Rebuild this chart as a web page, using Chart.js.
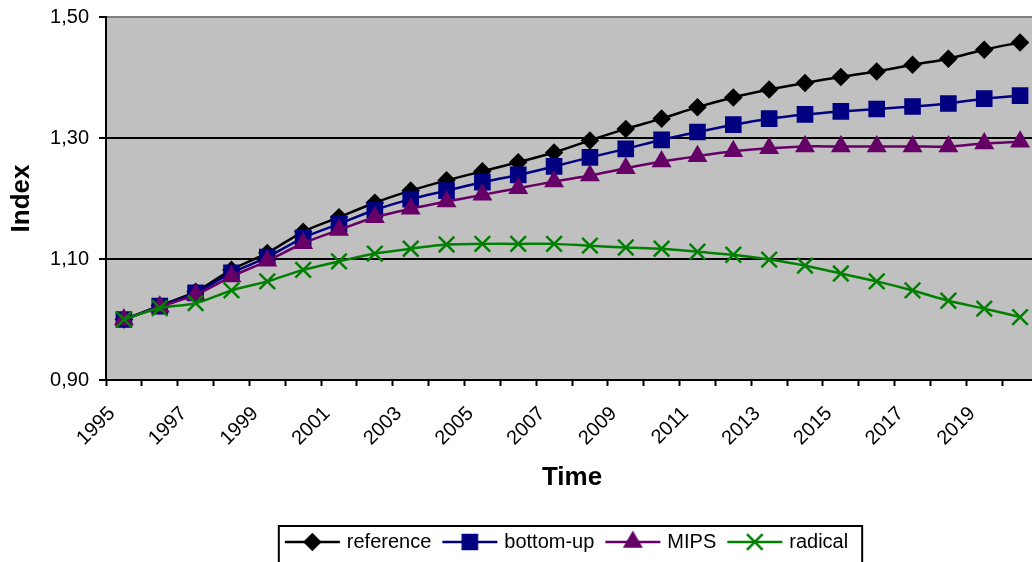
<!DOCTYPE html>
<html>
<head>
<meta charset="utf-8">
<script src="https://cdn.jsdelivr.net/npm/chart.js@4/dist/chart.umd.min.js"></script>
<style>
  html, body { margin: 0; padding: 0; background: #fff; overflow: hidden; }
  #wrap { position: absolute; left: 0; top: 0; width: 1040px; height: 562px; }
</style>
</head>
<body>
<div id="wrap"><canvas id="c" width="1040" height="562"></canvas></div>
<script>
// ---- data ----
const years = ['1995','1996','1997','1998','1999','2000','2001','2002','2003','2004','2005','2006','2007',
               '2008','2009','2010','2011','2012','2013','2014','2015','2016','2017','2018','2019','2020'];
const reference = [1.000,1.023,1.046,1.082,1.110,1.145,1.169,1.193,1.213,1.230,1.245,1.260,1.276,
                   1.296,1.315,1.332,1.351,1.367,1.380,1.391,1.401,1.410,1.421,1.431,1.446,1.458];
const bottomUp  = [1.000,1.022,1.044,1.077,1.103,1.135,1.158,1.181,1.199,1.213,1.227,1.239,1.253,
                   1.268,1.282,1.297,1.310,1.322,1.332,1.339,1.344,1.348,1.352,1.357,1.365,1.370];
const mips      = [1.000,1.021,1.041,1.071,1.097,1.126,1.148,1.169,1.183,1.195,1.206,1.217,1.228,
                   1.238,1.250,1.261,1.270,1.278,1.283,1.286,1.286,1.286,1.286,1.286,1.291,1.294];
const radical   = [1.000,1.019,1.027,1.048,1.063,1.082,1.096,1.109,1.117,1.124,1.125,1.125,1.125,
                   1.122,1.119,1.117,1.112,1.107,1.099,1.089,1.076,1.063,1.048,1.031,1.018,1.004];
const seriesNames = ['reference','bottom-up','MIPS','radical'];
const yTickValues = [0.90, 1.10, 1.30, 1.50];

// ---- styles ----
const FONT = "'Liberation Sans', Arial, sans-serif";
const styles = [
  {color:'#000000', pointStyle:'rectRot',  radius:7.5},
  {color:'#000080', pointStyle:'rect',     radius:10},
  {color:'#660066', pointStyle:'triangle', radius:9},
  {color:'#008000', pointStyle:'crossRot', radius:11}
];
const seriesData = [reference, bottomUp, mips, radical];

function makeIcon(st) {
  const cv = document.createElement('canvas');
  cv.width = 59; cv.height = 22;
  const g = cv.getContext('2d');
  g.strokeStyle = st.color; g.fillStyle = st.color; g.lineWidth = 2.5;
  g.beginPath(); g.moveTo(2, 11); g.lineTo(57, 11); g.stroke();
  if (Chart.helpers && Chart.helpers.drawPoint) {
    Chart.helpers.drawPoint(g, {pointStyle: st.pointStyle, radius: st.radius, borderWidth: 2.5, rotation: 0}, 29.5, 11);
  }
  return cv;
}
const icons = styles.map(makeIcon);

const datasets = seriesData.map((d, i) => ({
  label: seriesNames[i],
  data: d,
  borderColor: styles[i].color,
  backgroundColor: styles[i].color,
  pointBackgroundColor: styles[i].color,
  pointBorderColor: styles[i].color,
  pointStyle: styles[i].pointStyle,
  pointRadius: styles[i].radius,
  pointBorderWidth: 2.5,
  borderWidth: 2.5,
  tension: 0.3,
  fill: false,
  order: 4 - i
}));

const plotBg = {
  id: 'plotBg',
  beforeDraw(chart) {
    const {ctx, chartArea: a} = chart;
    ctx.save(); ctx.fillStyle = '#C0C0C0';
    ctx.fillRect(a.left, a.top, a.right - a.left, a.bottom - a.top);
    ctx.restore();
  }
};
const legendFrame = {
  id: 'legendFrame',
  afterLayout(chart) {
    const lg = chart.legend, a = chart.chartArea;
    if (!lg) return;
    const shift = (a.left + a.right) / 2 - 4 - (lg.left + lg.right) / 2;
    lg.left += shift; lg.right += shift;
  },
  afterDraw(chart) {
    const lg = chart.legend;
    if (!lg || !lg.legendHitBoxes || !lg.legendHitBoxes.length) return;
    let minL = Infinity, maxR = -Infinity;
    lg.legendHitBoxes.forEach(h => { minL = Math.min(minL, h.left); maxR = Math.max(maxR, h.left + h.width); });
    const ctx = chart.ctx;
    ctx.save(); ctx.strokeStyle = '#000'; ctx.lineWidth = 2;
    ctx.strokeRect(minL - 9, lg.top + 8, (maxR + 14) - (minL - 9), 60);
    ctx.restore();
  }
};

new Chart(document.getElementById('c'), {
  type: 'line',
  data: { labels: years, datasets },
  plugins: [plotBg, legendFrame],
  options: {
    responsive: false,
    devicePixelRatio: 1,
    animation: false,
    layout: { autoPadding: false, padding: { top: 17, right: 2, bottom: 0, left: 0 } },
    plugins: {
      tooltip: { enabled: false },
      legend: {
        position: 'bottom',
        labels: {
          usePointStyle: true,
          pointStyleWidth: 49,
          padding: 14,
          color: '#000',
          font: { size: 20, family: FONT },
          sort: (a, b) => a.datasetIndex - b.datasetIndex,
          generateLabels(chart) {
            const items = Chart.defaults.plugins.legend.labels.generateLabels(chart);
            items.forEach(it => { it.pointStyle = icons[it.datasetIndex]; });
            return items;
          }
        }
      }
    },
    scales: {
      x: {
        type: 'category',
        offset: true,
        afterFit(s) { s.height = 138; s.paddingRight = 0; s.paddingLeft = 0; },
        grid: { display: true, drawOnChartArea: false, drawTicks: true, tickLength: 6, tickColor: '#000', tickWidth: 2, offset: true },
        border: { display: true, color: '#000', width: 2 },
        ticks: {
          autoSkip: false, maxRotation: 45, minRotation: 45, padding: 16, labelOffset: -12,
          color: '#000', font: { size: 20, family: FONT },
          callback(v, i) { return i % 2 === 0 ? this.getLabelForValue(v) : ''; }
        },
        title: { display: true, text: 'Time', color: '#000', font: { size: 26, weight: 'bold', family: FONT }, padding: { top: 0, bottom: 25 } }
      },
      y: {
        min: 0.9, max: 1.5,
        afterFit(s) { s.width = 106; s.paddingTop = 0; s.paddingBottom = 0; },
        afterBuildTicks(s) { s.ticks = yTickValues.map(v => ({ value: v })); },
        grid: {
          color: c => (c.tick && Math.abs(c.tick.value - 1.5) < 1e-6) ? '#808080' : '#000',
          lineWidth: 2, tickLength: 7, tickColor: '#000', tickWidth: 2
        },
        border: { display: true, color: '#000', width: 2 },
        ticks: {
          padding: 10, color: '#000', font: { size: 20, family: FONT },
          callback: v => v.toFixed(2).replace('.', ',')
        },
        title: { display: true, text: 'Index', color: '#000', font: { size: 26, weight: 'bold', family: FONT }, padding: { top: 6, bottom: 0 } }
      }
    }
  }
});
</script>
</body>
</html>
